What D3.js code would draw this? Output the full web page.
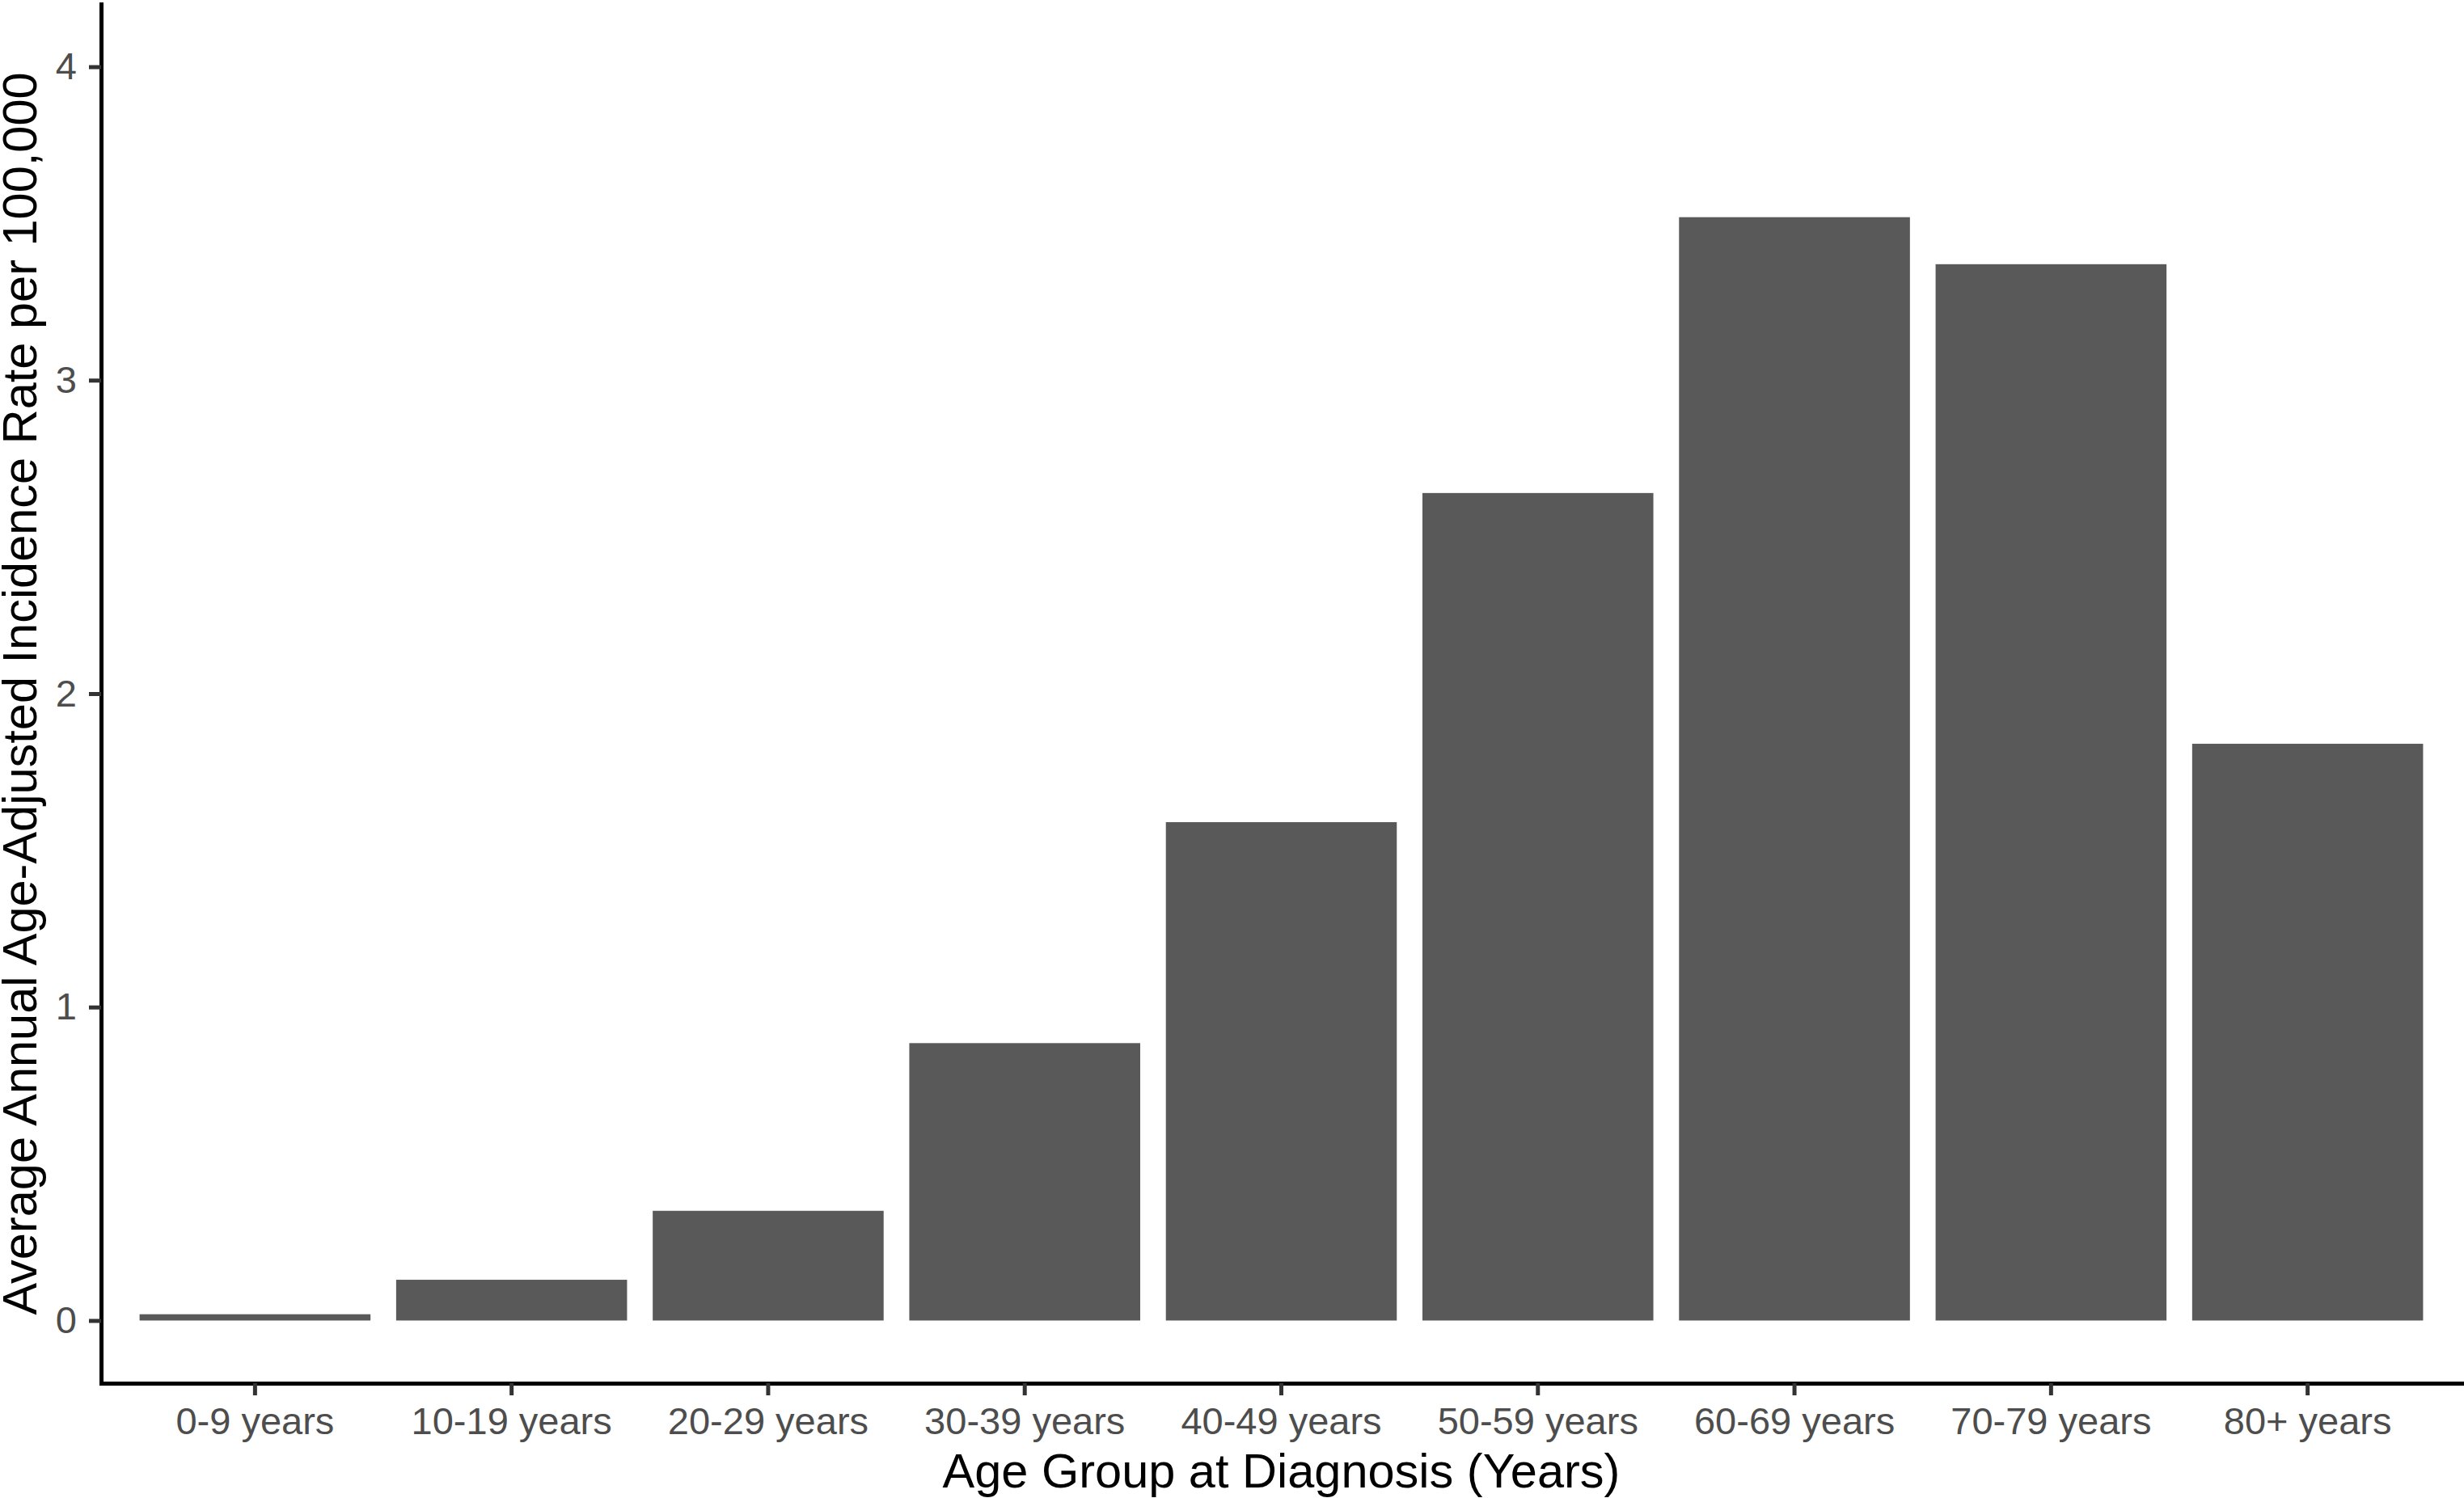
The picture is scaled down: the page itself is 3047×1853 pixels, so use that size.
<!DOCTYPE html>
<html>
<head>
<meta charset="utf-8">
<script src="https://cdn.jsdelivr.net/npm/d3@7"></script>
<style>
  body { margin: 0; background: #fff; }
  svg { display: block; font-family: "Liberation Sans", Arial, sans-serif; }
</style>
</head>
<body>
<svg id="chart" width="3047" height="1853"></svg>
<script>
// data
var ageGroups = ["0-9 years", "10-19 years", "20-29 years", "30-39 years", "40-49 years",
                 "50-59 years", "60-69 years", "70-79 years", "80+ years"];
var rates = [0.02, 0.13, 0.35, 0.885, 1.59, 2.64, 3.52, 3.37, 1.84];
var yTicks = [0, 1, 2, 3, 4];

var svg = d3.select("#chart");
var width = 3047, height = 1853;

// panel edges (note: "top" is taken by window.top)
var panelLeft = 125, panelRight = 3044, panelTop = 5, panelBottom = 1711;

var x = d3.scaleBand()
  .domain(ageGroups)
  .range([panelLeft, panelRight])
  .paddingInner(0.1)
  .paddingOuter(0.15);

var y = d3.scaleLinear()
  .domain([-0.2, 4.2])
  .range([panelBottom, panelTop]);

svg.append("rect")
  .attr("width", width)
  .attr("height", height)
  .attr("fill", "#fff");

// bars
svg.append("g")
  .selectAll("rect")
  .data(ageGroups)
  .enter()
  .append("rect")
  .attr("x", function (d) { return x(d); })
  .attr("width", x.bandwidth())
  .attr("y", function (d, i) { return y(rates[i]); })
  .attr("height", function (d, i) { return y(0) - y(rates[i]); })
  .attr("fill", "#595959");

// x axis
var xAxis = svg.append("g")
  .attr("transform", "translate(0," + panelBottom + ")")
  .call(d3.axisBottom(x).tickSize(15).tickSizeOuter(0).tickPadding(14.5));

// y axis
var yAxis = svg.append("g")
  .attr("transform", "translate(" + panelLeft + ",0)")
  .call(d3.axisLeft(y).tickValues(yTicks).tickFormat(d3.format("d"))
    .tickSize(15).tickSizeOuter(0).tickPadding(15));

[xAxis, yAxis].forEach(function (ax) {
  ax.select(".domain")
    .attr("stroke", "#000")
    .attr("stroke-width", 5)
    .attr("stroke-linecap", "square");
  ax.selectAll(".tick line")
    .attr("stroke", "#333")
    .attr("stroke-width", 5);
  ax.selectAll(".tick text")
    .attr("fill", "#4d4d4d")
    .style("font-size", "47px")
    .style("font-family", "Liberation Sans, Arial, sans-serif");
});

// axis titles
svg.append("text")
  .attr("x", (panelLeft + panelRight) / 2)
  .attr("y", 1840)
  .attr("text-anchor", "middle")
  .style("font-size", "59.5px")
  .attr("fill", "#000")
  .text("Age Group at Diagnosis (Years)");

svg.append("text")
  .attr("transform", "translate(45," + (panelTop + panelBottom) / 2 + ") rotate(-90)")
  .attr("text-anchor", "middle")
  .style("font-size", "59.5px")
  .attr("fill", "#000")
  .text("Average Annual Age-Adjusted Incidence Rate per 100,000");
</script>
</body>
</html>
